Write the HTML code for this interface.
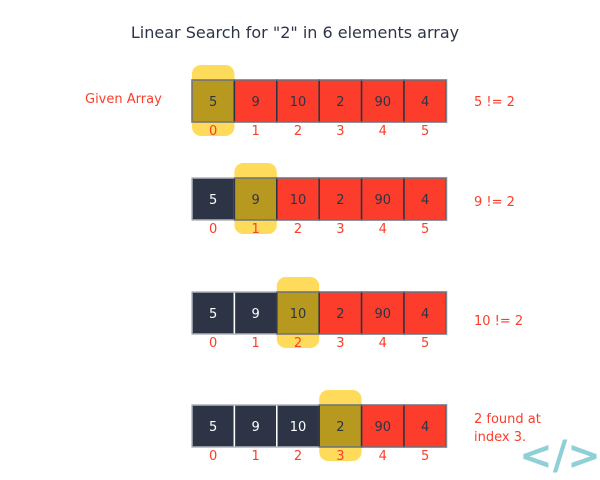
<!DOCTYPE html>
<html><head><meta charset="utf-8"><style>
body{margin:0;background:#fff}
svg{display:block;font-family:"DejaVu Sans","Liberation Sans",sans-serif}
</style></head><body>
<svg width="600" height="480" viewBox="0 0 600 480">
<text x="295" y="38" text-anchor="middle" font-size="16" fill="#2d3446">Linear Search for "2" in 6 elements array</text>
<text x="85" y="103" font-size="13" fill="#fc3d2b">Given  Array</text>
<g id="rows"></g>
<text x="474" y="106" font-size="13" fill="#fc3d2b">5 != 2</text>
<text x="474" y="206" font-size="13" fill="#fc3d2b">9 != 2</text>
<text x="474" y="325" font-size="13" fill="#fc3d2b">10 != 2</text>
<text x="474" y="423" font-size="13" fill="#fc3d2b">2 found at</text>
<text x="474" y="441" font-size="13" fill="#fc3d2b">index 3.</text>
<text x="560" y="469" text-anchor="middle" font-size="40" font-weight="bold" fill="#8ecfd8">&lt;/&gt;</text>
</svg>
<script>
const values=[5,9,10,2,90,4];
const rowTops=[80,178,292,405];
const x0=192,cw=42.4,ch=42;
const ns='http://www.w3.org/2000/svg';
const g=document.getElementById('rows');
function mk(t,a){const e=document.createElementNS(ns,t);for(const k in a)e.setAttribute(k,a[k]);return e;}
rowTops.forEach((y,r)=>{
  const row=mk('g',{});
  
  
  g.appendChild(row);
  const hl=mk('rect',{x:x0+r*cw,y:y-15,width:cw,height:ch+29,rx:9,fill:'#ffdb5c'});
  
  
  row.appendChild(hl);
  values.forEach((v,i)=>{
    const cx=x0+i*cw;
    const fill=i<r?'#2d3446':(i===r?'#b8991f':'#fc3d2b');
    const c=mk('rect',{x:cx,y:y,width:cw,height:ch,fill:fill,stroke:i<r?'#ffffff':'#2d3446','stroke-width':1.5});
    
    
    row.appendChild(c);
    const t=mk('text',{x:cx+cw/2,y:y+ch/2+5,'text-anchor':'middle','font-size':13,fill:i<r?'#ffffff':'#2d3446'});
    t.textContent=v;
    
    
    row.appendChild(t);
    const ix=mk('text',{x:cx+cw/2,y:y+ch+13,'text-anchor':'middle','font-size':13,fill:'#fc3d2b'});
    ix.textContent=i;
    
    
    row.appendChild(ix);
  });
  const b=mk('rect',{x:x0,y:y,width:cw*6,height:ch,fill:'none',stroke:'#8a8f99','stroke-width':1});
  
  
  row.appendChild(b);
});
</script>
</body></html>
